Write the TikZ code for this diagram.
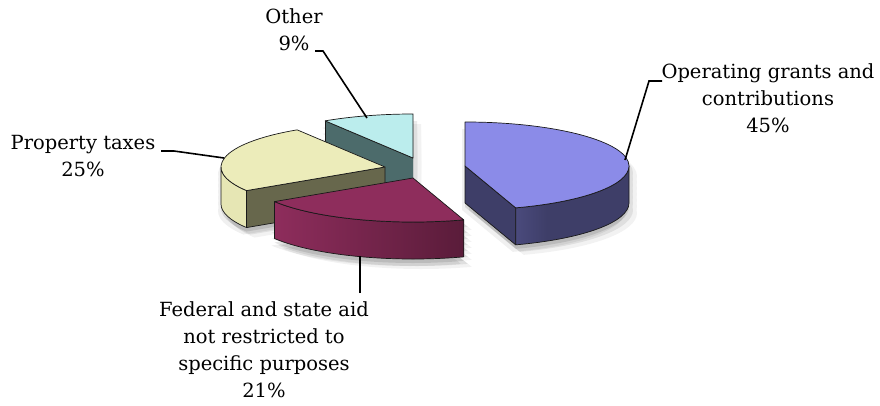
\documentclass[tikz,border=0pt]{standalone}
\usepackage{fontspec}
\setmainfont{DejaVu Serif}
\definecolor{blueTop}{HTML}{8B8BE8}
\definecolor{blueSide}{HTML}{3E3E68}
\definecolor{blueLight}{HTML}{5E5E9E}
\definecolor{marTop}{HTML}{8E2D5C}
\definecolor{marDark}{HTML}{5A1C3A}
\definecolor{yelTop}{HTML}{ECECBA}
\definecolor{yelSide}{HTML}{E6E6B4}
\definecolor{olive}{HTML}{67674C}
\definecolor{cyanTop}{HTML}{BBEDED}
\definecolor{teal}{HTML}{4C6B6B}
\newcommand{\silhouette}[4]{%
  \foreach \k in {0,6,12,18,24,30,37}{%
    \fill (#1,#2+\k) -- ++(#3:164pt and 44pt) arc[start angle=#3,end angle=#4,x radius=164pt,y radius=44pt] -- cycle;}}
\newcommand{\allsil}{%
  \silhouette{413}{158}{90}{122.4}%
  \silhouette{385}{167}{122.4}{212.4}%
  \silhouette{465}{166}{90}{-72}%
  \silhouette{413}{178}{-72}{-147.6}}
\begin{document}
\begin{tikzpicture}[x=1pt,y=-1pt,
  edge/.style={draw=black!90, line width=0.7pt, line join=round},
  leader/.style={draw=black, line width=1.6pt},
  lbl/.style={align=center, font=\fontsize{19.5}{27}\selectfont, inner sep=0pt}]
\useasboundingbox[fill=white] (0,0) rectangle (880,406);
% soft shadows
\begin{scope}[transparency group, opacity=0.10, shift={(0,4)}] \allsil \end{scope}
\begin{scope}[transparency group, opacity=0.08, shift={(4,7)}] \allsil \end{scope}
\begin{scope}[transparency group, opacity=0.06, shift={(-3,7)}] \allsil \end{scope}
\begin{scope}[transparency group, opacity=0.05, shift={(8,10)}] \allsil \end{scope}
% Other (cyan)
\fill[teal] (413,158) -- ++(122.4:164pt and 44pt) -- ++(0,37) -- (413,195) -- cycle;
\draw[edge] (413,158) ++(122.4:164pt and 44pt) -- ++(0,37);
\draw[edge] (413,158) -- ++(122.4:164pt and 44pt);
\draw[edge, fill=cyanTop] (413,158) -- ++(90:164pt and 44pt) arc[start angle=90,end angle=122.4,x radius=164pt,y radius=44pt] -- cycle;
% Property taxes (yellow)
\draw[edge, fill=olive] (385,167) -- ++(212.4:164pt and 44pt) -- ++(0,37) -- (385,204) -- cycle;
\draw[edge, fill=yelSide] (385,167) ++(180:164pt and 44pt) arc[start angle=180,end angle=212.4,x radius=164pt,y radius=44pt] -- ++(0,37) arc[start angle=212.4,end angle=180,x radius=164pt,y radius=44pt] -- cycle;
\draw[edge, fill=yelTop] (385,167) -- ++(122.4:164pt and 44pt) arc[start angle=122.4,end angle=212.4,x radius=164pt,y radius=44pt] -- cycle;
% Operating grants (blue)
\draw[edge, fill=blueSide] (465,166) -- ++(-72:164pt and 44pt) -- ++(0,37) -- (465,203) -- cycle;
\shadedraw[edge, left color=blueLight, right color=blueSide, middle color=blueSide] (465,166) ++(-72:164pt and 44pt) arc[start angle=-72,end angle=0,x radius=164pt,y radius=44pt] -- ++(0,37) arc[start angle=0,end angle=-72,x radius=164pt,y radius=44pt] -- cycle;
\draw[edge, fill=blueTop] (465,166) -- ++(90:164pt and 44pt) arc[start angle=90,end angle=-72,x radius=164pt,y radius=44pt] -- cycle;
% Federal (maroon)
\shadedraw[edge, left color=marTop, right color=marDark] (413,178) ++(-147.6:164pt and 44pt) arc[start angle=-147.6,end angle=-72,x radius=164pt,y radius=44pt] -- ++(0,37) arc[start angle=-72,end angle=-147.6,x radius=164pt,y radius=44pt] -- cycle;
\draw[edge, fill=marTop] (413,178) -- ++(-72:164pt and 44pt) arc[start angle=-72,end angle=-147.6,x radius=164pt,y radius=44pt] -- cycle;
% labels
\node[lbl] (lblOther) at (294,30) {Other\\9\%};
\node[lbl] (lblProp) at (83,156) {Property taxes\\25\%};
\node[lbl] (lblOper) at (768,98) {Operating grants and\\contributions\\45\%};
\node[lbl] (lblFed) at (264,350) {Federal and state aid\\not restricted to\\specific purposes\\21\%};
% leader anchors
\coordinate (oA) at (315,51); \coordinate (oB) at (323,51); \coordinate (oC) at (367,118);
\coordinate (pA) at (161,151); \coordinate (pB) at (174,151); \coordinate (pC) at (224,158);
\coordinate (gA) at (662,81); \coordinate (gB) at (649,81); \coordinate (gC) at (625,160);
\coordinate (fA) at (360,293); \coordinate (fC) at (360,256);
\draw[leader] (oA) -- (oB) -- (oC);
\draw[leader] (pA) -- (pB) -- (pC);
\draw[leader] (gA) -- (gB) -- (gC);
\draw[leader] (fA) -- (fC);
\end{tikzpicture}
\end{document}
